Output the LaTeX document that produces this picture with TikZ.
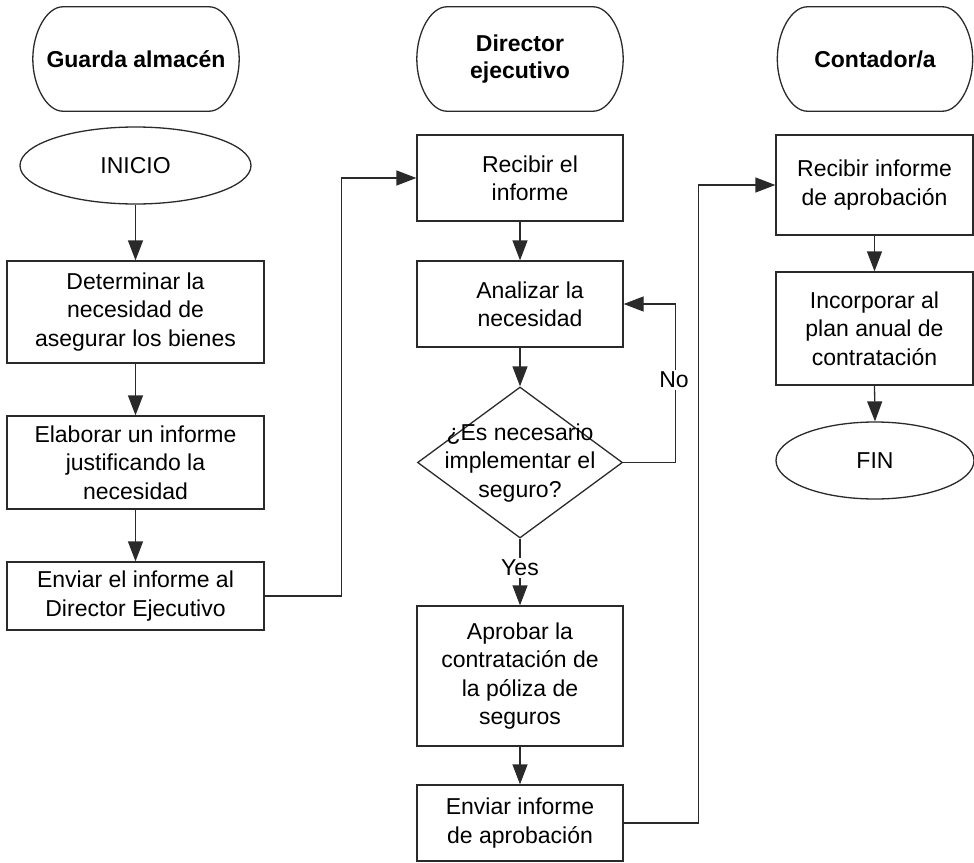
\documentclass[tikz,border=0pt]{standalone}
\usepackage{fontspec}
\setmainfont{Liberation Sans}
\usetikzlibrary{shapes.geometric,arrows.meta,calc}
\definecolor{lncol}{HTML}{2A2A2A}
\tikzset{
  line/.style={draw=lncol,line width=1.3pt},
  arr/.style={line,-{Triangle[length=20pt,width=15pt]}},
  txt/.style={font=\fontsize{23pt}{28.3pt}\selectfont,align=center,text=black},
  box/.style={txt,line,rectangle,inner sep=0pt},
  head/.style={rectangle,inner sep=0pt,align=center,text=black,font=\fontsize{23pt}{26.5pt}\selectfont\bfseries},
  oval/.style={txt,line,ellipse,inner sep=0pt},
  lbl/.style={txt,fill=white,inner sep=2pt},
}
\begin{document}
\begin{tikzpicture}[x=1pt,y=-1pt]
\useasboundingbox (0,0) rectangle (974,862);
% headers
\node[head,minimum width=206pt,minimum height=104pt] (h1) at (136,59) {Guarda almacén};
\node[head,minimum width=206pt,minimum height=104pt] (h2) at (520,59) {Director\\ejecutivo};
\node[head,minimum width=195pt,minimum height=104pt] (h3) at (875,59) {Contador/a};
\foreach \n in {h1,h2,h3} {
  \draw[line] ([xshift=30pt]\n.north west) -- ([xshift=-30pt]\n.north east)
    .. controls ([xshift=-14pt]\n.north east) and ([yshift=27pt]\n.east) .. (\n.east)
    .. controls ([yshift=-27pt]\n.east) and ([xshift=-14pt]\n.south east) .. ([xshift=-30pt]\n.south east)
    -- ([xshift=30pt]\n.south west)
    .. controls ([xshift=14pt]\n.south west) and ([yshift=-27pt]\n.west) .. (\n.west)
    .. controls ([yshift=27pt]\n.west) and ([xshift=14pt]\n.north west) .. cycle;
}
% left column
\node[oval,minimum width=231pt,minimum height=77pt] (ini) at (135.5,165.5) {INICIO};
\node[box,minimum width=257pt,minimum height=102pt] (b1) at (135.5,312) {Determinar la\\necesidad de\\asegurar los bienes};
\node[box,minimum width=257pt,minimum height=93pt] (b2) at (135.5,462.5) {Elaborar un informe\\justificando la\\necesidad};
\node[box,minimum width=257pt,minimum height=68pt] (b3) at (135.5,596) {Enviar el informe al\\Director Ejecutivo};
% middle column
\node[box,minimum width=206pt,minimum height=86pt] (r1) at (520,178) {\hspace*{20pt}Recibir el\\\hspace*{20pt}informe};
\node[box,minimum width=206pt,minimum height=86pt] (a1) at (520,304) {\hspace*{20pt}Analizar la\\\hspace*{20pt}necesidad};
\node[line,diamond,inner sep=0pt,minimum width=205pt,minimum height=151pt] (d) at (520,462.5) {};
\node[txt] (dtext) at (520,463) {¿Es necesario\\implementar el\\seguro?};
\node[box,minimum width=206pt,minimum height=140pt] (ap) at (520,676) {Aprobar la\\contratación de\\la póliza de\\seguros};
\node[box,minimum width=206pt,minimum height=76pt] (e2) at (520,823) {Enviar informe\\de aprobación};
% right column
\node[box,minimum width=197pt,minimum height=100pt] (ri) at (874.5,185) {Recibir informe\\de aprobación};
\node[box,minimum width=197pt,minimum height=113pt] (inc) at (874.5,328.5) {Incorporar al\\plan anual de\\contratación};
\node[oval,minimum width=198pt,minimum height=77pt] (fin) at (875,460.5) {FIN};
% connectors
\draw[arr] (ini.south) -- (b1.north);
\draw[arr] (b1.south) -- (b2.north);
\draw[arr] (b2.south) -- (b3.north);
\draw[arr] (b3.east) -- ++(77,0) |- (r1.west);
\draw[arr] (r1.south) -- (a1.north);
\draw[arr] (a1.south) -- (d.north);
\draw[arr] (d.east) -- ++(52,0) |- (a1.east);
\node[lbl] (no) at (674,380) {No};
\draw[arr] (d.south) -- (ap.north);
\node[lbl] (yes) at (520,568) {Yes};
\draw[arr] (ap.south) -- (e2.north);
\draw[arr] (e2.east) -- ++(75,0) |- (ri.west);
\draw[arr] (ri.south) -- (inc.north);
\draw[arr] (inc.south) -- (fin.north);
\end{tikzpicture}
\end{document}
